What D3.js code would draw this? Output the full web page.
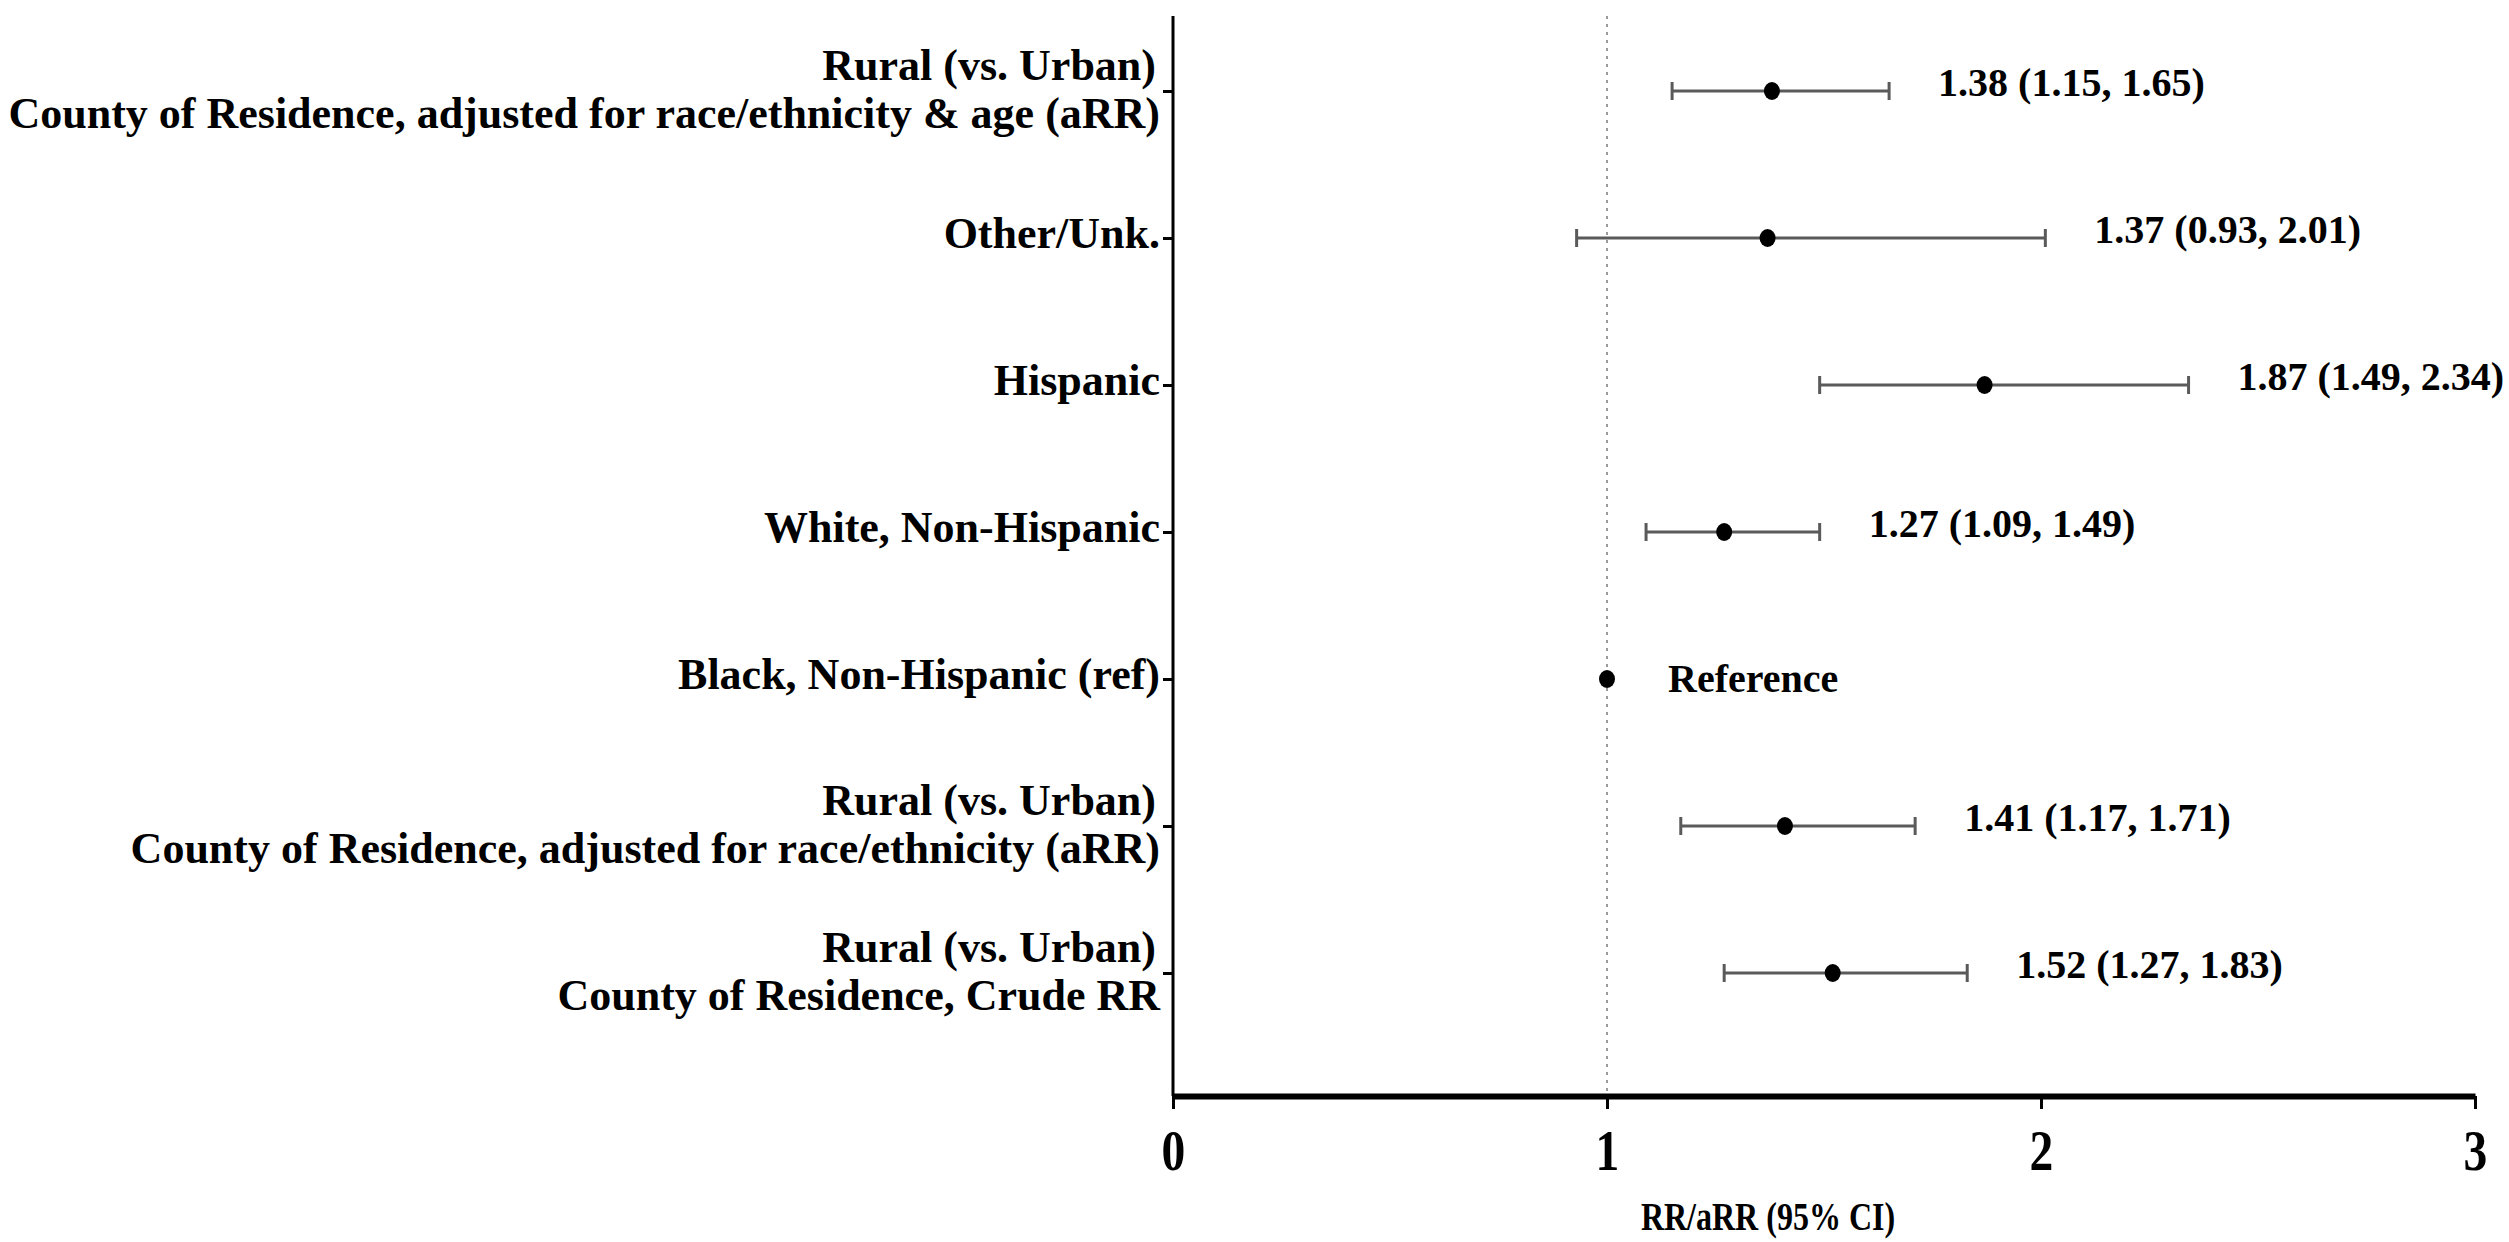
<!DOCTYPE html>
<html>
<head>
<meta charset="utf-8">
<script src="https://cdn.jsdelivr.net/npm/d3@7"></script>
<style>
  html, body { margin: 0; padding: 0; background: #fff; }
  svg { display: block; }
  text { font-family: "Liberation Serif", "Times New Roman", serif; font-weight: bold; fill: #000; }
</style>
</head>
<body>
<svg id="chart" width="2509" height="1242"></svg>
<script>
// Rows from top to bottom; "\n" splits a label over two lines
const categories = [
  "Rural (vs. Urban)\nCounty of Residence, adjusted for race/ethnicity & age (aRR)",
  "Other/Unk.",
  "Hispanic",
  "White, Non-Hispanic",
  "Black, Non-Hispanic (ref)",
  "Rural (vs. Urban)\nCounty of Residence, adjusted for race/ethnicity (aRR)",
  "Rural (vs. Urban)\nCounty of Residence, Crude RR"
];
const estimates = [1.38, 1.37, 1.87, 1.27, 1.00, 1.41, 1.52];
const lowerCI   = [1.15, 0.93, 1.49, 1.09, null, 1.17, 1.27];
const upperCI   = [1.65, 2.01, 2.34, 1.49, null, 1.71, 1.83];
const xTicks = [0, 1, 2, 3];
const xTitle = "RR/aRR (95% CI)";
const referenceText = "Reference";

const svg = d3.select("#chart");

const plot = { left: 1173, right: 2475, top: 16, bottom: 1096 };

const x = d3.scaleLinear().domain([0, 3]).range([plot.left, plot.right]);
const y = d3.scalePoint().domain(categories).range([91, 973]);

const rows = categories.map((c, i) => ({
  cat: c, est: estimates[i], lo: lowerCI[i], hi: upperCI[i]
}));

// dotted null line at RR = 1
svg.append("line")
  .attr("x1", x(1)).attr("x2", x(1))
  .attr("y1", plot.top).attr("y2", plot.bottom)
  .attr("stroke", "#9a9a9a").attr("stroke-width", 2)
  .attr("stroke-dasharray", "3,5");

// y axis
const yAxis = d3.axisLeft(y).tickSize(10).tickPadding(4).tickFormat("");
const gy = svg.append("g").attr("transform", `translate(${plot.left},0)`).call(yAxis);
gy.select(".domain").remove();
gy.selectAll(".tick line").attr("stroke", "#000").attr("stroke-width", 3);
svg.append("line")
  .attr("x1", plot.left).attr("x2", plot.left)
  .attr("y1", plot.top).attr("y2", plot.bottom)
  .attr("stroke", "#000").attr("stroke-width", 3);

// row labels (one or two lines)
const labelG = svg.append("g");
rows.forEach(r => {
  const lines = r.cat.split("\n");
  const t = labelG.append("text")
    .attr("text-anchor", "end")
    .attr("font-size", 44)
    .attr("dominant-baseline", "middle");
  if (lines.length === 1) {
    t.append("tspan").attr("x", plot.left - 13).attr("y", y(r.cat)).text(lines[0]);
  } else {
    t.append("tspan").attr("x", plot.left - 17).attr("y", y(r.cat) - 21).text(lines[0]);
    t.append("tspan").attr("x", plot.left - 13).attr("y", y(r.cat) + 27).text(lines[1]);
  }
});

// x axis
const xAxis = d3.axisBottom(x).tickValues(xTicks).tickFormat(d3.format("d"))
  .tickSize(13).tickSizeOuter(0).tickPadding(20);
const gx = svg.append("g").attr("transform", `translate(0,${plot.bottom})`).call(xAxis);
gx.select(".domain").attr("stroke", "#000").attr("stroke-width", 6);
gx.selectAll(".tick line").attr("stroke", "#000").attr("stroke-width", 3);
gx.selectAll(".tick text")
  .attr("font-size", 58)
  .attr("transform", "scale(0.82,1)")
  .style("font-family", "'Liberation Serif', serif")
  .style("font-weight", "bold")
  .attr("fill", "#000");

// axis title, set slightly narrow
svg.append("g")
  .attr("transform", `translate(1768,1230) scale(0.8,1)`)
  .append("text")
  .attr("text-anchor", "middle")
  .attr("font-size", 40)
  .text(xTitle);

// confidence intervals
const capH = 9;
const ci = svg.append("g").selectAll("g").data(rows.filter(r => r.lo != null)).join("g")
  .attr("stroke", "#5a5a5a").attr("stroke-width", 3);
ci.append("line")
  .attr("x1", d => x(d.lo)).attr("x2", d => x(d.hi))
  .attr("y1", d => y(d.cat)).attr("y2", d => y(d.cat));
ci.append("line")
  .attr("x1", d => x(d.lo)).attr("x2", d => x(d.lo))
  .attr("y1", d => y(d.cat) - capH).attr("y2", d => y(d.cat) + capH);
ci.append("line")
  .attr("x1", d => x(d.hi)).attr("x2", d => x(d.hi))
  .attr("y1", d => y(d.cat) - capH).attr("y2", d => y(d.cat) + capH);

// point estimates
svg.append("g").selectAll("ellipse").data(rows).join("ellipse")
  .attr("cx", d => x(d.est)).attr("cy", d => y(d.cat))
  .attr("rx", 8).attr("ry", 9)
  .attr("fill", "#000");

// value labels
svg.append("g").selectAll("text").data(rows).join("text")
  .attr("x", d => d.hi != null ? x(d.hi) + 49 : x(d.est) + 61)
  .attr("y", d => d.hi != null ? y(d.cat) - 4 : y(d.cat) + 4)
  .attr("dominant-baseline", "middle")
  .attr("font-size", 40)
  .text(d => d.hi != null
    ? `${d.est.toFixed(2)} (${d.lo.toFixed(2)}, ${d.hi.toFixed(2)})`
    : referenceText);
</script>
</body>
</html>
